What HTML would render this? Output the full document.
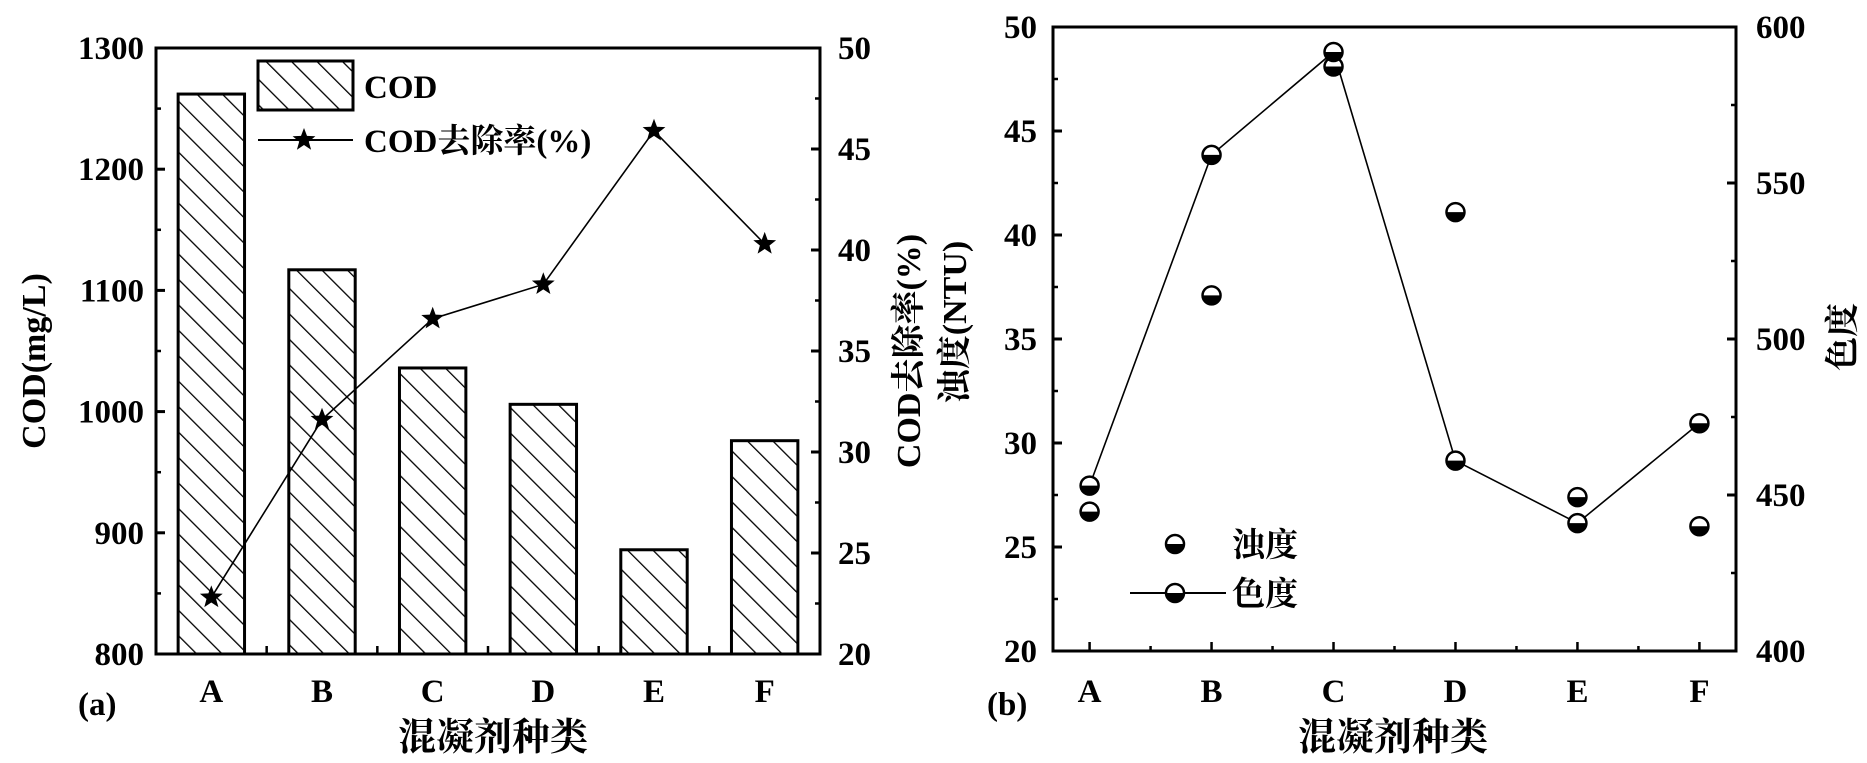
<!DOCTYPE html>
<html><head><meta charset="utf-8"><style>
html,body{margin:0;padding:0;background:#fff;}
svg{display:block;}
text{font-family:"Liberation Serif","Noto Serif CJK SC","Noto Sans CJK SC",serif;font-weight:bold;fill:#000;}
</style></head><body>
<svg id="chart" width="1867" height="763" viewBox="0 0 1867 763" xmlns="http://www.w3.org/2000/svg">
<defs>
<pattern id="hatch" patternUnits="userSpaceOnUse" width="18" height="18" patternTransform="rotate(-45)">
<line x1="0" y1="0" x2="0" y2="18" stroke="#000" stroke-width="2.6"/>
</pattern>
</defs>
<g id="pa"></g>
<g id="pb"></g>
</svg>
<script>
const categories = ["A","B","C","D","E","F"];
const codValues = [1262, 1117, 1036, 1006, 886, 976];
const codRemoval = [22.8, 31.6, 36.6, 38.3, 45.9, 40.3];
const codTicks = [800, 900, 1000, 1100, 1200, 1300];
const removalTicks = [20, 25, 30, 35, 40, 45, 50];
const turbidity = [26.7, 37.1, 48.1, 41.1, 27.4, 26.0];
const chroma = [453, 559, 592, 461, 441, 473];
const turbTicks = [20, 25, 30, 35, 40, 45, 50];
const chromaTicks = [400, 450, 500, 550, 600];

const NS = "http://www.w3.org/2000/svg";
function mk(parent, tag, attrs, txt){
  const e = document.createElementNS(NS, tag);
  for (const k in attrs) e.setAttribute(k, attrs[k]);
  if (txt !== undefined) e.textContent = txt;
  parent.appendChild(e);
  return e;
}
function lin(d0,d1,r0,r1){return v => r0 + (v-d0)*(r1-r0)/(d1-d0);}

// ---------- Panel A ----------
const pa = document.getElementById('pa');
const A = {l:156, r:820, t:48, b:654};
const band = (A.r-A.l)/categories.length;
const xa = i => A.l + (i+0.5)*band;
const yL = lin(800,1300,A.b,A.t);
const yR = lin(20,50,A.b,A.t);

categories.forEach((c,i)=>{
  const bw = band*0.6, y = yL(codValues[i]);
  const r = mk(pa,'rect',{x:xa(i)-bw/2,y:y,width:bw,height:A.b-y,fill:'url(#hatch)',stroke:'#000','stroke-width':3});
  
  
});
const frameA = mk(pa,'rect',{x:A.l,y:A.t,width:A.r-A.l,height:A.b-A.t,fill:'none',stroke:'#000','stroke-width':3});



codTicks.forEach((v,i)=>{
  const y=yL(v);
  mk(pa,'line',{x1:A.l,y1:y,x2:A.l+9,y2:y,stroke:'#000','stroke-width':3});
  if(i<codTicks.length-1) mk(pa,'line',{x1:A.l,y1:yL(v+50),x2:A.l+5,y2:yL(v+50),stroke:'#000','stroke-width':2.5});
  const t = mk(pa,'text',{x:A.l-12,y:y+11,'text-anchor':'end','font-size':33},String(v));
  
  
});
removalTicks.forEach((v,i)=>{
  const y=yR(v);
  mk(pa,'line',{x1:A.r,y1:y,x2:A.r-9,y2:y,stroke:'#000','stroke-width':3});
  if(i<removalTicks.length-1) mk(pa,'line',{x1:A.r,y1:yR(v+2.5),x2:A.r-5,y2:yR(v+2.5),stroke:'#000','stroke-width':2.5});
  const t = mk(pa,'text',{x:A.r+18,y:y+11,'font-size':33},String(v));
  
  
});
for(let i=1;i<categories.length;i++){
  mk(pa,'line',{x1:A.l+i*band,y1:A.b,x2:A.l+i*band,y2:A.b-8,stroke:'#000','stroke-width':2.5});
}
categories.forEach((c,i)=>{
  const t = mk(pa,'text',{x:xa(i),y:702,'text-anchor':'middle','font-size':33},c);
  
  
});
function star(parent,cx,cy,R){
  let p=[];
  for(let k=0;k<10;k++){const a=-Math.PI/2+k*Math.PI/5;const rr=k%2?R*0.42:R;p.push((cx+rr*Math.cos(a)).toFixed(1)+','+(cy+rr*Math.sin(a)).toFixed(1));}
  return mk(parent,'polygon',{points:p.join(' '),fill:'#000'});
}
const lineA = mk(pa,'polyline',{points:codRemoval.map((v,i)=>xa(i)+','+yR(v)).join(' '),fill:'none',stroke:'#000','stroke-width':1.6});


codRemoval.forEach((v,i)=>{
  const s = star(pa,xa(i),yR(v),12);
  
  
});
const lgA = mk(pa,'g',{});


mk(lgA,'rect',{x:258,y:61,width:95,height:49,fill:'url(#hatch)',stroke:'#000','stroke-width':3});
mk(lgA,'text',{x:364,y:98,'font-size':33},'COD');
mk(lgA,'line',{x1:258,y1:140,x2:353,y2:140,stroke:'#000','stroke-width':2});
star(lgA,304,140,12);
mk(lgA,'text',{x:364,y:152,'font-size':33},'COD去除率(%)');
let t;
t = mk(pa,'text',{x:0,y:0,'text-anchor':'middle','font-size':34,transform:'translate(45,361) rotate(-90)'},'COD(mg/L)');
 
t = mk(pa,'text',{x:0,y:0,'text-anchor':'middle','font-size':34,transform:'translate(920,351) rotate(-90)'},'COD去除率(%)');
 
t = mk(pa,'text',{x:78,y:715,'font-size':33},'(a)');
 
t = mk(pa,'text',{x:493,y:750,'text-anchor':'middle','font-size':38,'font-weight':'normal'},'混凝剂种类');
 

// ---------- Panel B ----------
const pb = document.getElementById('pb');
const B = {l:1053, r:1736, t:27, b:651};
const xb = lin(-0.3,5.3,B.l,B.r);
const yT = lin(20,50,B.b,B.t);
const yC = lin(400,600,B.b,B.t);
const frameB = mk(pb,'rect',{x:B.l,y:B.t,width:B.r-B.l,height:B.b-B.t,fill:'none',stroke:'#000','stroke-width':3});


turbTicks.forEach((v,i)=>{
  const y=yT(v);
  mk(pb,'line',{x1:B.l,y1:y,x2:B.l+9,y2:y,stroke:'#000','stroke-width':3});
  if(i<turbTicks.length-1) mk(pb,'line',{x1:B.l,y1:yT(v+2.5),x2:B.l+5,y2:yT(v+2.5),stroke:'#000','stroke-width':2.5});
  const tt = mk(pb,'text',{x:B.l-16,y:y+11,'text-anchor':'end','font-size':33},String(v));
  
  
});
chromaTicks.forEach((v,i)=>{
  const y=yC(v);
  mk(pb,'line',{x1:B.r,y1:y,x2:B.r-9,y2:y,stroke:'#000','stroke-width':3});
  if(i<chromaTicks.length-1) mk(pb,'line',{x1:B.r,y1:yC(v+25),x2:B.r-5,y2:yC(v+25),stroke:'#000','stroke-width':2.5});
  const tt = mk(pb,'text',{x:B.r+20,y:y+11,'font-size':33},String(v));
  
  
});
for(let k=0;k<=10;k++){
  const x=xb(k/2);
  mk(pb,'line',{x1:x,y1:B.b,x2:x,y2:B.b-(k%2?5:9),stroke:'#000','stroke-width':2.5});
}
categories.forEach((c,i)=>{
  const tt = mk(pb,'text',{x:xb(i),y:702,'text-anchor':'middle','font-size':33},c);
  
  
});
function halfDot(parent,cx,cy){
  const g = mk(parent,'g',{});
  mk(g,'circle',{cx:cx,cy:cy,r:9,fill:'#fff',stroke:'#000','stroke-width':2.5});
  mk(g,'path',{d:`M${cx-9},${cy} A9,9 0 0 0 ${cx+9},${cy} Z`,fill:'#000'});
  return g;
}
const lineB = mk(pb,'polyline',{points:chroma.map((v,i)=>xb(i)+','+yC(v)).join(' '),fill:'none',stroke:'#000','stroke-width':1.6});


turbidity.forEach((v,i)=>{
  const g = halfDot(pb,xb(i),yT(v));
  
  
});
chroma.forEach((v,i)=>{
  const g = halfDot(pb,xb(i),yC(v));
  
  
});
const lgB = mk(pb,'g',{});


halfDot(lgB,1175,544);
mk(lgB,'text',{x:1232,y:556,'font-size':33,'font-weight':'normal'},'浊度');
mk(lgB,'line',{x1:1130,y1:593,x2:1226,y2:593,stroke:'#000','stroke-width':2});
halfDot(lgB,1175,593);
mk(lgB,'text',{x:1232,y:605,'font-size':33,'font-weight':'normal'},'色度');
t = mk(pb,'text',{x:0,y:0,'text-anchor':'middle','font-size':34,transform:'translate(966,322) rotate(-90)'},'浊度(NTU)');
 
t = mk(pb,'text',{x:0,y:0,'text-anchor':'middle','font-size':34,'font-weight':'normal',transform:'translate(1854,337) rotate(-90)'},'色度');
 
t = mk(pb,'text',{x:987,y:715,'font-size':33},'(b)');
 
t = mk(pb,'text',{x:1393,y:750,'text-anchor':'middle','font-size':38,'font-weight':'normal'},'混凝剂种类');
 
</script>
</body></html>
